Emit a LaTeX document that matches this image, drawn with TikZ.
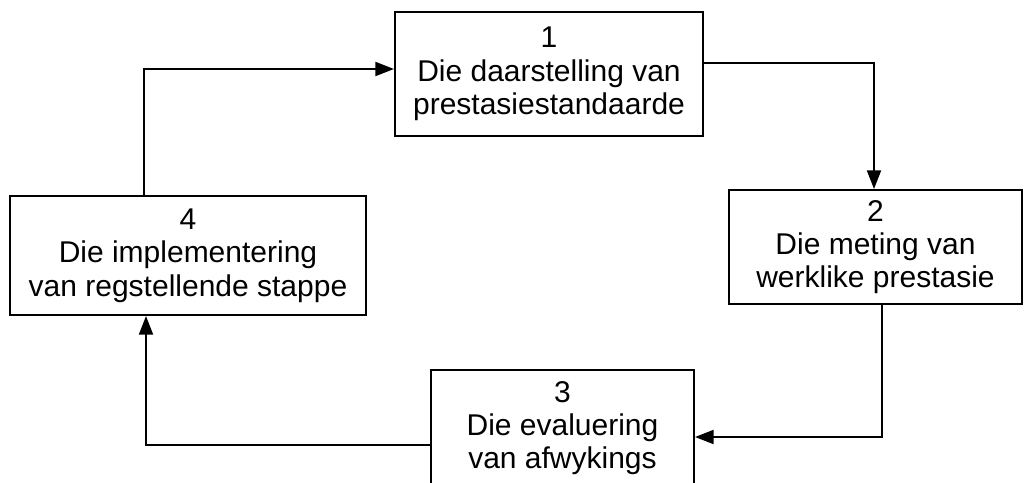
\documentclass[tikz,border=0pt]{standalone}
\usepackage{fontspec}
\setmainfont{Liberation Sans}
\usetikzlibrary{arrows.meta}
\tikzset{
  stepbox/.style={draw, line width=1.5pt, align=center, inner sep=0pt,
    font=\fontsize{22.5pt}{25pt}\selectfont},
  conn/.style={line width=1.5pt, -{Triangle[length=14pt,width=10.5pt]}}
}
\begin{document}
\begin{tikzpicture}[x=0.75pt,y=-0.75pt]
\useasboundingbox (0,0) rectangle (1027,482);
\clip (0,0) rectangle (1027,482);
\node[stepbox, minimum width=308*0.75pt, minimum height=124*0.75pt] (b1) at (549,74)
  {1\\Die daarstelling van\\prestasiestandaarde};
\node[stepbox, minimum width=293*0.75pt, minimum height=114*0.75pt] (b2) at (875.5,247)
  {2\\Die meting van\\werklike prestasie};
\node[stepbox, minimum width=263*0.75pt, minimum height=116*0.75pt] (b3) at (562.5,428)
  {3\\Die evaluering\\van afwykings};
\node[stepbox, minimum width=356*0.75pt, minimum height=119*0.75pt] (b4) at (188,255.5)
  {4\\Die implementering\\van regstellende stappe};
\coordinate (c1) at (144,69);
\coordinate (c2) at (874,63);
\coordinate (c3) at (882,437);
\coordinate (c4) at (146,445);
\draw[conn] (b4.north -| c1) -- (c1) -- (b1.west |- c1);
\draw[conn] (b1.east |- c2) -- (c2) -- (b2.north -| c2);
\draw[conn] (b2.south -| c3) -- (c3) -- (b3.east |- c3);
\draw[conn] (b3.west |- c4) -- (c4) -- (b4.south -| c4);
\end{tikzpicture}
\end{document}
